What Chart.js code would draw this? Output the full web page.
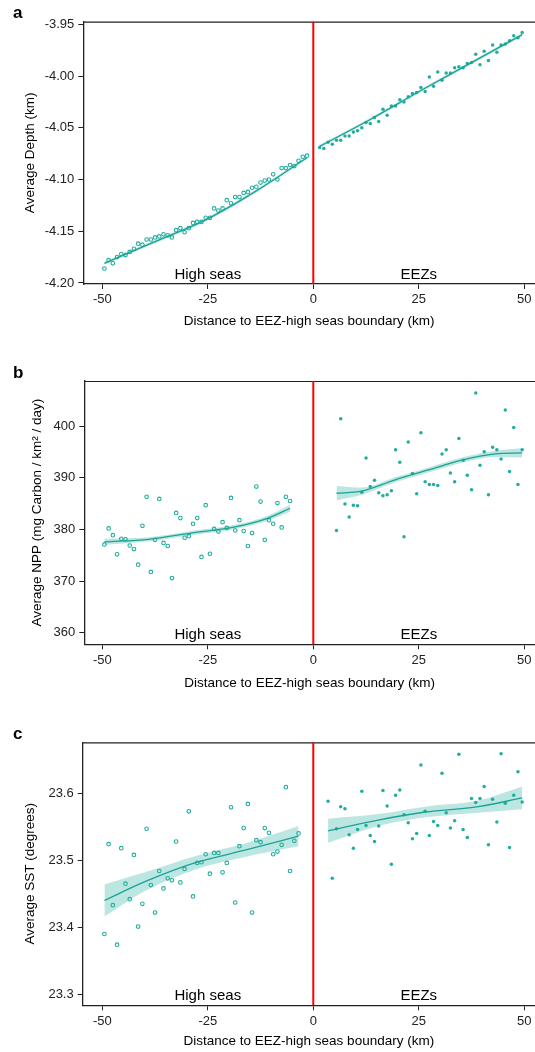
<!DOCTYPE html>
<html><head><meta charset="utf-8">
<script src="https://cdn.jsdelivr.net/npm/chart.js@4/dist/chart.umd.min.js"></script>
<style>
html,body{margin:0;padding:0;background:#fff;}
#wrap{position:relative;width:535px;height:1052px;overflow:hidden;background:#fff;}
canvas{position:absolute;left:0;}
.lbl{position:absolute;left:13px;font:bold 17px 'Liberation Sans',Arial,sans-serif;line-height:17px;color:#000;}
</style></head><body>
<div id="wrap">
<canvas id="ca" width="535" height="340" style="top:0px"></canvas>
<canvas id="cb" width="535" height="360" style="top:340px"></canvas>
<canvas id="cc" width="535" height="352" style="top:700px"></canvas>
<div class="lbl" style="top:4px">a</div>
<div class="lbl" style="top:364px">b</div>
<div class="lbl" style="top:725px">c</div>
</div>
<script>
// ---------- tick labels / annotations ----------
const xTicks = [-50, -25, 0, 25, 50];
const depthTicks = [-3.95, -4.00, -4.05, -4.10, -4.15, -4.20];
const nppTicks = [400, 390, 380, 370, 360];
const sstTicks = [23.6, 23.5, 23.4, 23.3];
const regionNames = ['High seas', 'EEZs'];
const regionNameX = [-25, 25];
const boundaryX = 0;

// ---------- panel a: depth ----------
const depthHsX = [-49.5,-48.5,-47.5,-46.5,-45.5,-44.5,-43.5,-42.5,-41.5,-40.5,-39.5,-38.5,-37.5,-36.5,-35.5,-34.5,-33.5,-32.5,-31.5,-30.5,-29.5,-28.5,-27.5,-26.5,-25.5,-24.5,-23.5,-22.5,-21.5,-20.5,-19.5,-18.5,-17.5,-16.5,-15.5,-14.5,-13.5,-12.5,-11.5,-10.5,-9.5,-8.5,-7.5,-6.5,-5.5,-4.5,-3.5,-2.5,-1.5];
const depthHsY = [-4.186,-4.178,-4.181,-4.175,-4.172,-4.173,-4.170,-4.167,-4.162,-4.163,-4.158,-4.158,-4.156,-4.155,-4.153,-4.154,-4.156,-4.149,-4.147,-4.151,-4.147,-4.142,-4.141,-4.141,-4.137,-4.137,-4.128,-4.130,-4.128,-4.120,-4.123,-4.117,-4.117,-4.113,-4.112,-4.108,-4.107,-4.103,-4.101,-4.100,-4.095,-4.100,-4.089,-4.089,-4.086,-4.087,-4.082,-4.078,-4.077];
const depthEezX = [1.5,2.5,3.5,4.5,5.5,6.5,7.5,8.5,9.5,10.5,11.5,12.5,13.5,14.5,15.5,16.5,17.5,18.5,19.5,20.5,21.5,22.5,23.5,24.5,25.5,26.5,27.5,28.5,29.5,30.5,31.5,32.5,33.5,34.5,35.5,36.5,37.5,38.5,39.5,40.5,41.5,42.5,43.5,44.5,45.5,46.5,47.5,48.5,49.5];
const depthEezY = [-4.069,-4.070,-4.064,-4.066,-4.062,-4.062,-4.058,-4.058,-4.054,-4.053,-4.050,-4.045,-4.046,-4.040,-4.044,-4.032,-4.038,-4.029,-4.029,-4.023,-4.025,-4.020,-4.017,-4.016,-4.011,-4.015,-4.001,-4.010,-3.996,-4.004,-3.997,-3.997,-3.992,-3.991,-3.992,-3.988,-3.987,-3.979,-3.989,-3.976,-3.985,-3.970,-3.977,-3.970,-3.969,-3.966,-3.961,-3.963,-3.958];
const depthHsFitX = [-49.5,-37.5,-25.5,-13.5,-1.5];
const depthHsFitY = [-4.181,-4.160,-4.139,-4.111,-4.079];
const depthHsFitLo = [-4.1825,-4.1615,-4.1405,-4.1125,-4.0805];
const depthHsFitHi = [-4.1795,-4.1585,-4.1375,-4.1095,-4.0775];
const depthEezFitX = [1.5,13.5,25.5,37.5,49.5];
const depthEezFitY = [-4.068,-4.042,-4.014,-3.987,-3.960];
const depthEezFitLo = [-4.0695,-4.0435,-4.0155,-3.9885,-3.9615];
const depthEezFitHi = [-4.0665,-4.0405,-4.0125,-3.9855,-3.9585];

// ---------- panel b: NPP ----------
const nppHsX = [-49.5,-48.5,-47.5,-46.5,-45.5,-44.5,-43.5,-42.5,-41.5,-40.5,-39.5,-38.5,-37.5,-36.5,-35.5,-34.5,-33.5,-32.5,-31.5,-30.5,-29.5,-28.5,-27.5,-26.5,-25.5,-24.5,-23.5,-22.5,-21.5,-20.5,-19.5,-18.5,-17.5,-16.5,-15.5,-14.5,-13.5,-12.5,-11.5,-10.5,-9.5,-8.5,-7.5,-6.5,-5.5];
const nppHsY = [377.1,380.2,378.9,375.2,378.2,378.1,376.9,376.2,373.2,380.7,386.3,371.8,378.0,385.9,377.4,376.8,370.6,383.2,382.2,378.4,378.7,381.1,382.2,374.7,384.7,375.3,380.1,379.6,381.4,380.3,386.1,379.8,381.8,379.7,376.8,379.3,388.3,385.4,378.0,381.8,381.1,385.1,380.4,386.3,385.5];
const nppEezX = [5.5,6.5,7.5,8.5,9.5,10.5,11.5,12.5,13.5,14.5,15.5,16.5,17.5,18.5,19.5,20.5,21.5,22.5,23.5,24.5,25.5,26.5,27.5,28.5,29.5,30.5,31.5,32.5,33.5,34.5,35.5,36.5,37.5,38.5,39.5,40.5,41.5,42.5,43.5,44.5,45.5,46.5,47.5,48.5,49.5];
const nppEezY = [379.8,401.4,384.9,382.4,384.7,384.6,387.2,393.8,388.3,389.5,387.1,386.5,386.7,387.5,395.4,393.0,378.6,396.9,390.8,386.9,398.7,389.2,388.7,388.7,388.5,394.6,395.4,390.9,389.2,397.6,393.4,390.5,387.7,406.4,392.4,395.0,386.7,395.9,395.4,393.6,403.1,391.2,399.7,388.7,395.4];
const nppHsFitX = [-49.5,-39,-29,-18.5,-10.7,-5.5];
const nppHsFitY = [377.6,378.1,379.3,380.5,382.2,384.1];
const nppHsFitLo = [377.0,377.7,378.9,380.1,381.7,383.4];
const nppHsFitHi = [378.2,378.5,379.7,380.9,382.7,384.8];
const nppEezFitX = [5.5,11.5,19.4,27.3,35.2,43.1,49.5];
const nppEezFitY = [387.0,387.4,389.6,391.5,393.4,394.6,394.8];
const nppEezFitLo = [385.6,386.7,389.1,391.0,392.9,394.0,393.9];
const nppEezFitHi = [388.4,388.1,390.1,392.0,393.9,395.2,395.7];

// ---------- panel c: SST ----------
const sstHsX = [-49.5,-48.5,-47.5,-46.5,-45.5,-44.5,-43.5,-42.5,-41.5,-40.5,-39.5,-38.5,-37.5,-36.5,-35.5,-34.5,-33.5,-32.5,-31.5,-30.5,-29.5,-28.5,-27.5,-26.5,-25.5,-24.5,-23.5,-22.5,-21.5,-20.5,-19.5,-18.5,-17.5,-16.5,-15.5,-14.5,-13.5,-12.5,-11.5,-10.5,-9.5,-8.5,-7.5,-6.5,-5.5,-4.5,-3.5];
const sstHsY = [23.390,23.524,23.433,23.374,23.518,23.465,23.442,23.508,23.401,23.435,23.547,23.463,23.422,23.484,23.458,23.473,23.470,23.528,23.467,23.487,23.573,23.446,23.496,23.497,23.509,23.480,23.511,23.511,23.482,23.496,23.579,23.437,23.521,23.548,23.584,23.422,23.530,23.527,23.548,23.541,23.509,23.513,23.523,23.609,23.484,23.529,23.540];
const sstEezX = [3.5,4.5,5.5,6.5,7.5,8.5,9.5,10.5,11.5,12.5,13.5,14.5,15.5,16.5,17.5,18.5,19.5,20.5,21.5,22.5,23.5,24.5,25.5,26.5,27.5,28.5,29.5,30.5,31.5,32.5,33.5,34.5,35.5,36.5,37.5,38.5,39.5,40.5,41.5,42.5,43.5,44.5,45.5,46.5,47.5,48.5,49.5];
const sstEezY = [23.588,23.473,23.547,23.580,23.577,23.538,23.518,23.546,23.603,23.552,23.537,23.528,23.551,23.604,23.581,23.494,23.597,23.605,23.568,23.556,23.532,23.540,23.642,23.573,23.537,23.558,23.552,23.630,23.571,23.548,23.559,23.658,23.546,23.534,23.592,23.586,23.592,23.610,23.523,23.591,23.557,23.659,23.585,23.519,23.597,23.632,23.587];
const sstHsFitX = [-49.5,-39.9,-28.1,-16.2,-3.5];
const sstHsFitY = [23.440,23.468,23.496,23.515,23.536];
const sstHsFitLo = [23.416,23.454,23.486,23.505,23.521];
const sstHsFitHi = [23.464,23.482,23.506,23.525,23.551];
const sstEezFitX = [3.5,15.4,26.5,39.1,49.5];
const sstEezFitY = [23.544,23.560,23.572,23.580,23.593];
const sstEezFitLo = [23.526,23.551,23.564,23.571,23.576];
const sstEezFitHi = [23.562,23.569,23.580,23.589,23.610];

// ---------- styling ----------
const FONT = "'Liberation Sans', Arial, sans-serif";
const TEAL = '#22ad9e';
const LINE = '#1b9e90';
const BAND = 'rgba(34,173,158,0.30)';
const AXIS = '#222';

function pts(xs, ys) { return xs.map((x, i) => ({ x: x, y: ys[i] })); }

function fitSets(x, y, lo, hi) {
  const common = { showLine: true, pointRadius: 0, pointHoverRadius: 0, pointHitRadius: 0, cubicInterpolationMode: 'monotone' };
  return [
    Object.assign({ data: pts(x, hi), fill: '+1', backgroundColor: BAND, borderColor: 'rgba(0,0,0,0)', borderWidth: 0 }, common),
    Object.assign({ data: pts(x, lo), fill: false, borderColor: 'rgba(0,0,0,0)', borderWidth: 0 }, common),
    Object.assign({ data: pts(x, y), fill: false, borderColor: LINE, borderWidth: 1.3 }, common)
  ];
}

const decor = {
  id: 'decor',
  afterDraw(chart) {
    const { ctx, chartArea: a, scales } = chart;
    ctx.save();
    ctx.strokeStyle = AXIS; ctx.lineWidth = 1.2;
    ctx.beginPath(); ctx.moveTo(a.left, a.top + 0.5); ctx.lineTo(chart.width, a.top + 0.5); ctx.stroke();
    const bx = scales.x.getPixelForValue(boundaryX);
    ctx.strokeStyle = '#ff0000'; ctx.lineWidth = 2;
    ctx.beginPath(); ctx.moveTo(bx, a.top); ctx.lineTo(bx, a.bottom); ctx.stroke();
    ctx.fillStyle = '#000'; ctx.font = '15px ' + FONT;
    ctx.textAlign = 'center'; ctx.textBaseline = 'alphabetic';
    regionNames.forEach((t, i) => {
      ctx.fillText(t, scales.x.getPixelForValue(regionNameX[i]), a.bottom - 5.5);
    });
    ctx.restore();
  }
};

function makePanel(id, c) {
  const datasets = [].concat(
    fitSets(c.hsFit[0], c.hsFit[1], c.hsFit[2], c.hsFit[3]),
    fitSets(c.eezFit[0], c.eezFit[1], c.eezFit[2], c.eezFit[3]),
    [
      { data: pts(c.hsX, c.hsY), pointRadius: 1.8, pointHoverRadius: 1.8, pointBorderWidth: 1.1, pointBorderColor: TEAL, pointBackgroundColor: '#fff', showLine: false },
      { data: pts(c.eezX, c.eezY), pointRadius: 1.75, pointHoverRadius: 1.75, pointBorderWidth: 0, pointBackgroundColor: TEAL, pointBorderColor: TEAL, showLine: false }
    ]
  );
  new Chart(document.getElementById(id), {
    type: 'scatter',
    data: { datasets: datasets },
    plugins: [decor],
    options: {
      responsive: false, animation: false, devicePixelRatio: 1, events: [],
      layout: { autoPadding: false, padding: { top: c.padTop, left: 0, right: 0, bottom: 0 } },
      plugins: { legend: { display: false }, tooltip: { enabled: false } },
      scales: {
        x: {
          type: 'linear', min: c.xMin, max: c.xMax,
          afterBuildTicks: s => { s.ticks = xTicks.map(v => ({ value: v })); },
          afterFit: s => { s.height = c.xAxisH; s.paddingLeft = 0; s.paddingRight = 0; },
          ticks: { font: { family: FONT, size: 13 }, color: AXIS, padding: 3, maxRotation: 0, autoSkip: false, callback: v => String(v) },
          grid: { display: true, drawOnChartArea: false, drawTicks: true, tickLength: 5, color: AXIS, lineWidth: 1 },
          border: { display: true, color: AXIS, width: 1.3 },
          title: { display: true, text: 'Distance to EEZ-high seas boundary (km)', color: '#000', font: { family: FONT, size: 13.5 }, padding: { top: 0, bottom: c.xTitlePad } }
        },
        y: {
          type: 'linear', min: c.yMin, max: c.yMax,
          afterBuildTicks: s => { s.ticks = c.yTicks.map(v => ({ value: v })); },
          afterFit: s => { s.width = c.axisW; s.paddingTop = 0; s.paddingBottom = 0; },
          ticks: { font: { family: FONT, size: 13 }, color: AXIS, padding: 4, autoSkip: false, callback: v => v.toFixed(c.dec) },
          grid: { display: true, drawOnChartArea: false, drawTicks: true, tickLength: 5, color: AXIS, lineWidth: 1 },
          border: { display: true, color: AXIS, width: 1.3 },
          title: { display: true, text: c.yTitle, color: '#000', font: { family: FONT, size: 13.5 }, padding: { top: c.yTitlePad, bottom: 0 } }
        }
      }
    }
  });
}

makePanel('ca', {
  xMin: -54.50, xMax: 52.54, yMin: -4.201, yMax: -3.9475, yTicks: depthTicks, dec: 2,
  yTitle: 'Average Depth (km)', yTitlePad: 22.4, axisW: 83.3, padTop: 21.7, xAxisH: 56, xTitlePad: 10.9,
  hsX: depthHsX, hsY: depthHsY, eezX: depthEezX, eezY: depthEezY,
  hsFit: [depthHsFitX, depthHsFitY, depthHsFitLo, depthHsFitHi],
  eezFit: [depthEezFitX, depthEezFitY, depthEezFitLo, depthEezFitHi]
});
makePanel('cb', {
  xMin: -54.27, xMax: 52.54, yMin: 357.8, yMax: 408.7, yTicks: nppTicks, dec: 0,
  yTitle: 'Average NPP (mg Carbon / km² / day)', yTitlePad: 29, axisW: 84.3, padTop: 41, xAxisH: 55.7, xTitlePad: 8.9,
  hsX: nppHsX, hsY: nppHsY, eezX: nppEezX, eezY: nppEezY,
  hsFit: [nppHsFitX, nppHsFitY, nppHsFitLo, nppHsFitHi],
  eezFit: [nppEezFitX, nppEezFitY, nppEezFitLo, nppEezFitHi]
});
makePanel('cc', {
  xMin: -54.64, xMax: 52.54, yMin: 23.2836, yMax: 23.676, yTicks: sstTicks, dec: 1,
  yTitle: 'Average SST (degrees)', yTitlePad: 22.4, axisW: 82.7, padTop: 42.3, xAxisH: 46.7, xTitlePad: 2.2,
  hsX: sstHsX, hsY: sstHsY, eezX: sstEezX, eezY: sstEezY,
  hsFit: [sstHsFitX, sstHsFitY, sstHsFitLo, sstHsFitHi],
  eezFit: [sstEezFitX, sstEezFitY, sstEezFitLo, sstEezFitHi]
});
</script>
</body></html>
